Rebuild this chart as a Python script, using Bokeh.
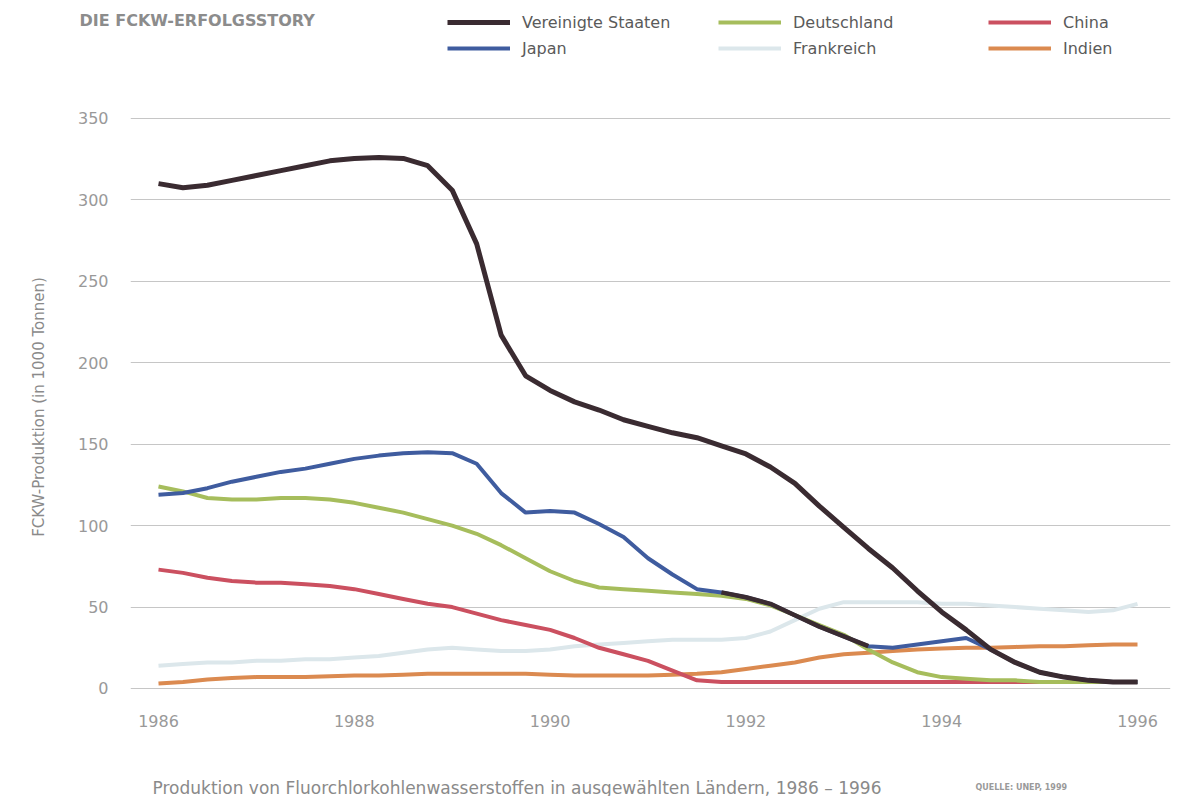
from bokeh.plotting import figure
from bokeh.layouts import column, row
from bokeh.models import Range1d, FixedTicker, Legend, LegendItem, Label
from bokeh.embed import file_html
from bokeh.resources import INLINE

# ---------------- data ----------------
years = [1986 + 0.25 * i for i in range(41)]

usa = [310, 307.5, 309, 312, 315, 318, 321, 324, 325.5, 326, 325.5, 321,
       306, 273, 217, 192, 183, 176, 171, 165, 161, 157, 154, 149, 144,
       136, 126, 112, 99, 86, 74, 60, 47, 36, 24, 16, 10, 7, 5, 4, 4]

japan = [119, 120, 123, 127, 130, 133, 135, 138, 141, 143, 144.5, 145,
         144.5, 138, 120, 108, 109, 108, 101, 93, 80, 70, 61, 59, 56,
         52, 45, 38, 32, 26, 25, 27, 29, 31, 24, 16, 10, 7, 5, 4, 4]

deutschland = [124, 121, 117, 116, 116, 117, 117, 116, 114, 111, 108, 104,
               100, 95, 88, 80, 72, 66, 62, 61, 60, 59, 58, 57, 55,
               51, 45, 39, 33, 24, 16, 10, 7, 6, 5, 5, 4, 4, 4, 4, 4]

frankreich = [14, 15, 16, 16, 17, 17, 18, 18, 19, 20, 22, 24,
              25, 24, 23, 23, 24, 26, 27, 28, 29, 30, 30, 30, 31,
              35, 42, 49, 53, 53, 53, 53, 52, 52, 51, 50, 49, 48, 47, 48, 52]

china = [73, 71, 68, 66, 65, 65, 64, 63, 61, 58, 55, 52,
         50, 46, 42, 39, 36, 31, 25, 21, 17, 11, 5, 4, 4,
         4, 4, 4, 4, 4, 4, 4, 4, 4, 4, 4, 4, 4, 4, 4, 4]

indien = [3, 4, 5.5, 6.5, 7, 7, 7, 7.5, 8, 8, 8.5, 9,
          9, 9, 9, 9, 8.5, 8, 8, 8, 8, 8.5, 9, 10, 12,
          14, 16, 19, 21, 22, 23, 24, 24.5, 25, 25, 25.5, 26, 26, 26.5, 27, 27]

y_ticks = [0, 50, 100, 150, 200, 250, 300, 350]
x_ticks = [1986, 1988, 1990, 1992, 1994, 1996]

series = [
    ("Frankreich", frankreich),
    ("Indien", indien),
    ("China", china),
    ("Deutschland", deutschland),
    ("Japan", japan),
    ("Vereinigte Staaten", usa),
]

# dark overlap stretch seen on the Japan curve in the original print
overlap_years = [y for y in years if 1991.75 <= y <= 1993.25]
overlap_japan = [v for y, v in zip(years, japan) if 1991.75 <= y <= 1993.25]

# ---------------- styling ----------------
styles = {
    "Vereinigte Staaten": ("#3a2b31", 5),
    "Japan": ("#3f5c9f", 4),
    "Deutschland": ("#a6bd5c", 4),
    "Frankreich": ("#dce7eb", 4),
    "China": ("#cb5060", 4),
    "Indien": ("#db8a50", 4),
}
GREY = "#8a8a8a"
FONT = "DejaVu Sans"
W = 1175


def blank(h):
    f = figure(width=W, height=h, output_backend="svg", toolbar_location=None,
               x_axis_location=None, y_axis_location=None,
               x_range=Range1d(0, 1), y_range=Range1d(0, 1),
               min_border=0, min_border_left=0, min_border_right=0,
               min_border_top=0, min_border_bottom=0)
    f.outline_line_color = None
    f.grid.visible = False
    f.background_fill_color = "white"
    f.border_fill_color = "white"
    return f


# ---------------- header: title + legend ----------------
head = blank(100)
head.add_layout(Label(x=79, y=80, x_units="screen", y_units="screen",
                      text="DIE FCKW-ERFOLGSSTORY", text_font=FONT,
                      text_font_style="bold", text_font_size="16px",
                      text_color="#8c8c8c", text_baseline="middle"))

# legend swatches: same series, drawn outside this strip's visible range
swatch = {}
for name, vals in series:
    c, w = styles[name]
    swatch[name] = head.line(years, vals, line_color=c, line_width=w)


def make_legend(names, x):
    leg = Legend(items=[LegendItem(label=n, renderers=[swatch[n]]) for n in names],
                 location=(x, 42), orientation="vertical",
                 glyph_width=63, glyph_height=20, label_height=20,
                 spacing=6, padding=0, margin=0, label_standoff=12,
                 border_line_alpha=0, background_fill_alpha=0,
                 label_text_font=FONT, label_text_font_size="16px",
                 label_text_color="#5a5a5a")
    head.add_layout(leg)


make_legend(["Vereinigte Staaten", "Japan"], 447)
make_legend(["Deutschland", "Frankreich"], 718)
make_legend(["China", "Indien"], 988)

# ---------------- main chart ----------------
p = figure(width=W, height=640, output_backend="svg", toolbar_location=None,
           x_range=Range1d(1985.714, 1996.337), y_range=Range1d(-10.44, 356.14),
           min_border_left=130, min_border_right=5, min_border_top=8,
           min_border_bottom=35)
p.outline_line_color = None
p.background_fill_color = "white"
p.border_fill_color = "white"

p.xgrid.grid_line_color = None
p.ygrid.grid_line_color = "#c6c6c6"
p.ygrid.grid_line_width = 1

p.yaxis.ticker = FixedTicker(ticks=y_ticks)
p.xaxis.ticker = FixedTicker(ticks=x_ticks)
for ax in (p.xaxis[0], p.yaxis[0]):
    ax.axis_line_color = None
    ax.major_tick_line_color = None
    ax.minor_tick_line_color = None
    ax.major_tick_out = 0
    ax.major_tick_in = 0
    ax.major_label_text_color = "#999999"
    ax.major_label_text_font = FONT
    ax.major_label_text_font_size = "16px"
p.yaxis.major_label_standoff = 22
p.xaxis.major_label_standoff = 9

p.yaxis.axis_label = "FCKW-Produktion (in 1000 Tonnen)"
p.yaxis.axis_label_text_font = FONT
p.yaxis.axis_label_text_font_style = "normal"
p.yaxis.axis_label_text_font_size = "15px"
p.yaxis.axis_label_text_color = GREY
p.yaxis.axis_label_standoff = 27

for name, vals in series:
    c, w = styles[name]
    p.line(years, vals, line_color=c, line_width=w)
    if name == "Japan":
        p.line(overlap_years, overlap_japan,
               line_color=styles["Vereinigte Staaten"][0], line_width=4.5)

# ---------------- footer: caption + source ----------------
foot = blank(56)
foot.add_layout(Label(x=152, y=9, x_units="screen", y_units="screen",
                      text="Produktion von Fluorchlorkohlenwasserstoffen in ausgewählten Ländern, 1986 – 1996",
                      text_font=FONT, text_font_size="17px", text_color=GREY,
                      text_baseline="middle"))
foot.add_layout(Label(x=975, y=9, x_units="screen", y_units="screen",
                      text="QUELLE: UNEP, 1999", text_font=FONT,
                      text_font_style="bold", text_font_size="8px",
                      text_color="#9a9a9a", text_baseline="middle"))

layout = column(row(head), p, row(foot), spacing=0)
open("out.html", "w").write(file_html(layout, INLINE))
